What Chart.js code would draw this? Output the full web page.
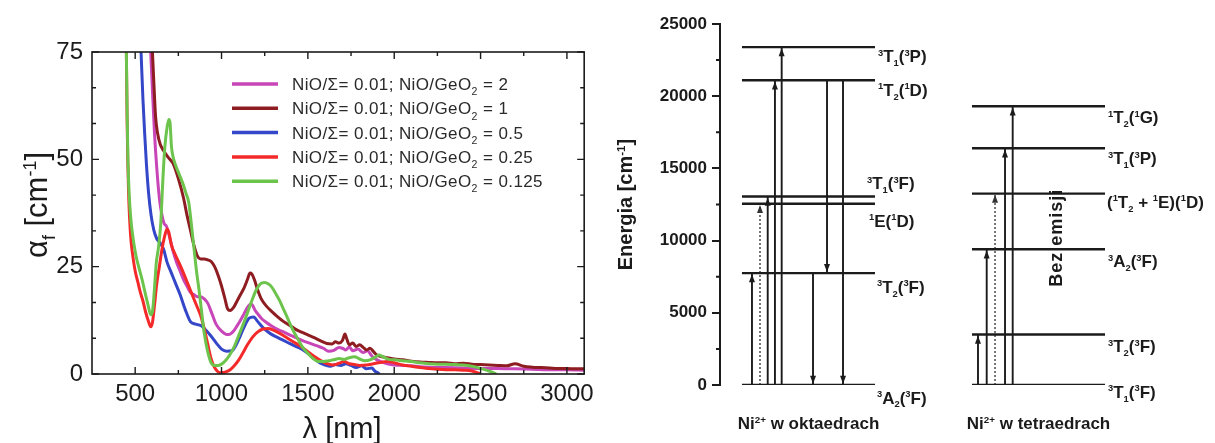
<!DOCTYPE html>
<html><head><meta charset="utf-8">
<script src="https://cdn.jsdelivr.net/npm/chart.js@4.4.0/dist/chart.umd.min.js"></script>
<style>
html,body{margin:0;padding:0;background:#fff;width:1215px;height:443px;overflow:hidden;}
#left{position:absolute;left:0;top:0;width:600px;height:443px;}
#right{position:absolute;left:600px;top:0;width:615px;height:443px;}
</style></head><body>
<canvas id="left" width="600" height="443"></canvas>
<canvas id="right" width="615" height="443"></canvas>
<script>
// ---------------- DATA: absorption spectra ----------------
const wavelengthTicks = [500, 1000, 1500, 2000, 2500, 3000];
const alphaTicks = [0, 25, 50, 75];
const seriesLabels = [
  'NiO/Σ= 0.01; NiO/GeO_2 = 2',
  'NiO/Σ= 0.01; NiO/GeO_2 = 1',
  'NiO/Σ= 0.01; NiO/GeO_2 = 0.5',
  'NiO/Σ= 0.01; NiO/GeO_2 = 0.25',
  'NiO/Σ= 0.01; NiO/GeO_2 = 0.125'
];
// NiO/GeO2 = 2
const lambda_2 = [590,600,612,625,640,655,668,680,692,705,720,740,760,780,800,820,840,860,880,900,920,945,970,1000,1030,1050,1070,1090,1110,1130,1150,1170,1180,1195,1210,1230,1260,1290,1330,1370,1400,1440,1480,1510,1550,1590,1620,1650,1680,1700,1720,1740,1760,1790,1820,1845,1870,1900,1930,1960,2000,2050,2100,2150,2200,2300,2400,2500,2600,2700,2800,2900,3000,3100];
const alpha_2  = [75,66,56,48,41,37,35,34.5,33,31,28.5,26,24,22,20.5,19,18.5,18,18,17.5,16.5,14,11.5,10,9.2,9.3,10,11.2,12.5,14,15.5,16.3,16,14.8,14,13,12,11.2,10.3,9.6,9,8.3,7.6,7.2,6.6,6,5.3,5.5,6.2,6,5.6,6.3,5.4,5.8,5,5.4,4.2,3.3,2.8,2.4,2.1,2.0,1.9,1.7,1.6,1.5,1.4,1.3,1.3,1.2,1.1,1.0,1.0,0.9];
// NiO/GeO2 = 1
const lambda_1 = [600,608,618,630,645,665,690,720,750,780,800,820,840,860,880,900,920,940,960,980,1000,1020,1035,1050,1070,1090,1110,1130,1150,1165,1175,1190,1210,1230,1260,1290,1320,1360,1400,1430,1460,1500,1540,1580,1610,1640,1660,1680,1700,1715,1725,1740,1760,1780,1800,1820,1840,1860,1880,1900,1930,1960,2000,2050,2100,2150,2200,2250,2300,2350,2400,2450,2500,2550,2600,2650,2700,2750,2800,2850,2900,2950,3000,3050,3100];
const alpha_1  = [75,68,60,56,53.5,52,50.5,49,45.5,41,37,33.5,30,27.5,26.8,26.8,26.6,26.2,25,23,20.5,17.5,15.2,14.8,15.5,17,18.5,20,22,23.5,23.3,22,19.5,17.5,15.8,14.6,13.5,12.2,11.2,10.4,9.8,9.1,8.4,7.6,7.1,7.0,7.5,7.2,7.8,9.3,8.2,6.8,7.2,6.4,6.8,6.2,5.6,6.0,5.2,4.4,4.0,3.8,3.5,3.3,3.0,2.8,2.7,2.6,2.6,2.4,2.5,2.3,2.2,2.1,2.0,1.9,2.4,1.8,1.6,1.5,1.4,1.3,1.3,1.2,1.2];
// NiO/GeO2 = 0.5
const lambda_05 = [534,545,555,565,578,592,608,625,645,665,685,710,735,760,790,820,850,880,910,940,970,1000,1030,1060,1085,1110,1135,1160,1185,1210,1240,1270,1300,1340,1380,1420,1460,1500,1540,1570,1600,1630,1660,1690,1720,1750,1780,1810,1840,1870,1890,1905,1915];
const alpha_05  = [75,64,56,49,42,37,33.5,31.5,30.5,29,26,23.5,21,18.5,15,12.2,11.6,11.3,10.2,8.8,7.2,5.8,5.3,5.4,6.8,9,11.3,13,13.3,12.2,10.8,9.8,9,8.2,7.4,6.6,5.9,4.8,3.5,2.6,2.1,1.8,2.2,2.0,2.4,2.0,1.5,1.9,1.2,1.4,0.6,0.3,0];
// NiO/GeO2 = 0.25
const lambda_025 = [449,453,457,462,468,476,488,500,515,530,545,560,575,590,600,612,625,640,655,670,685,695,710,730,755,780,805,830,855,880,900,920,940,960,980,1000,1025,1050,1075,1100,1125,1150,1180,1210,1240,1270,1300,1340,1380,1420,1460,1500,1540,1580,1620,1650,1680,1710,1740,1770,1800,1840,1880,1920,1960,2000,2050,2100,2150,2200,2250,2300,2350,2400,2450,2480,2500];
const alpha_025  = [75,60,50,42,36,31,27,24,21.5,19,17,14.5,12.5,11,12,16,21,25,29,32,33.8,33,30,28,25.8,23.5,21,18.5,16,13.5,10.5,7,3.5,1.5,0.5,0.3,0.5,1,2,3.3,5,6.8,8.6,9.8,10.5,10.6,10.2,9.4,8.4,7.4,6.4,5.2,4,3,2.3,2.1,2.5,2.9,2.4,2.2,2.0,2.1,2.4,2.7,2.9,2.6,2.1,1.8,1.5,1.3,1.1,1.0,1.0,0.9,0.7,0.3,0];
// NiO/GeO2 = 0.125
const lambda_0125 = [449,453,458,465,475,490,505,520,540,560,575,590,600,612,622,635,648,660,672,685,695,702,710,720,735,755,775,795,810,825,840,855,870,885,900,920,940,960,980,1000,1025,1050,1075,1100,1125,1150,1175,1200,1225,1250,1270,1290,1310,1335,1360,1385,1410,1440,1470,1500,1530,1560,1590,1620,1650,1680,1710,1740,1770,1800,1830,1860,1890,1910,1940,1970,2000,2050,2100,2150,2200,2250,2300,2350,2400,2450,2500,2540,2570,2590];
const alpha_0125  = [75,62,50,42,36,31,27.5,25,22,18.5,16,13.8,14.5,20,25.8,29.5,35,45,53,57.5,59.3,58.5,53,50.5,48.5,46.5,44.5,42,40,35,29.5,24,19.5,14.4,9.5,5.2,2.6,2.0,2.0,2.3,3.2,4.6,6.5,9.0,11.5,14.2,17,19.5,21,21.3,21,20.3,19,17.2,15,12.8,10.5,8.3,6.2,4.8,3.6,2.9,2.9,3.1,3.3,3.6,3.4,3.8,4.0,3.5,3.1,3.3,3.9,4.4,3.9,3.4,3.3,3.1,2.9,2.6,2.4,2.3,2.3,2.2,2.1,1.8,1.3,0.8,0.4,0];

// ---------------- DATA: energy level diagram ----------------
const energyTicks = [0, 5000, 10000, 15000, 20000, 25000];
const octaLevelEnergy = [0, 7750, 12550, 13050, 21100, 23400];
const octaLevelLabel  = ['^3A_2(^3F)', '^3T_2(^3F)', '^1E(^1D)', '^3T_1(^3F)', '^1T_2(^1D)', '^3T_1(^3P)'];
const octaTransFrom = [0, 0, 0, 0, 0, 1, 4, 4];
const octaTransTo   = [1, 2, 3, 4, 5, 0, 1, 0];
const octaTransKind = ['solid','dotted','solid','solid','solid','solid','solid','solid'];
const tetraLevelEnergy = [0, 3500, 9400, 13250, 16400, 19300];
const tetraLevelLabel  = ['^3T_1(^3F)', '^3T_2(^3F)', '^3A_2(^3F)', '(^1T_2 + ^1E)(^1D)', '^3T_1(^3P)', '^1T_2(^1G)'];
const tetraTransFrom = [0, 0, 0, 0, 0];
const tetraTransTo   = [1, 2, 3, 4, 5];
const tetraTransKind = ['solid','solid','dotted','solid','solid'];

// ---------------- STYLE / LAYOUT ----------------
const FONT = 'Liberation Sans';
const seriesColors = ['#c846b8', '#8e1d22', '#3447c8', '#f42a2a', '#6cc44c'];
const seriesOrder  = [5, 4, 3, 2, 1];
const INK = '#1b1b1b';

function parseRich(str){
  const segs=[]; let i=0, cur='';
  while(i<str.length){
    const c=str[i];
    if(c==='^'||c==='_'){
      if(cur){segs.push({t:cur,k:'n'});cur='';}
      i++; let g;
      if(str[i]==='{'){const j=str.indexOf('}',i); g=str.slice(i+1,j); i=j+1;}
      else {g=str[i]; i++;}
      segs.push({t:g,k:c==='^'?'sup':'sub'});
    } else {cur+=c; i++;}
  }
  if(cur) segs.push({t:cur,k:'n'});
  return segs;
}
function drawRich(ctx, str, x, yCenter, o){
  const size=o.size, wt=o.weight||'normal', ss=o.scriptScale||0.58;
  const font=s=>`${wt} ${s}px "${FONT}"`;
  const segs=parseRich(str);
  const widths=segs.map(sg=>{ctx.font=font(sg.k==='n'?size:size*ss); return ctx.measureText(sg.t).width;});
  const total=widths.reduce((a,b)=>a+b,0);
  let cx = o.align==='center'? x-total/2 : (o.align==='right'? x-total : x);
  const base = yCenter + size*0.36;
  ctx.fillStyle=o.color||INK; ctx.textBaseline='alphabetic'; ctx.textAlign='left';
  segs.forEach((sg,i)=>{
    ctx.font=font(sg.k==='n'?size:size*ss);
    const dy = sg.k==='sup' ? -size*(o.supRaise||0.36) : (sg.k==='sub' ? size*(o.subDrop||0.2) : 0);
    ctx.fillText(sg.t, cx, base+dy);
    cx+=widths[i];
  });
  return total;
}
function drawRotated(ctx, str, cx, cy, o){
  ctx.save(); ctx.translate(cx, cy); ctx.rotate(-Math.PI/2);
  drawRich(ctx, str, 0, 0, Object.assign({align:'center'}, o));
  ctx.restore();
}
const plainNumber = v => String(v);

// ---------------- LEFT CHART ----------------
const specSets = [[lambda_2,alpha_2],[lambda_1,alpha_1],[lambda_05,alpha_05],[lambda_025,alpha_025],[lambda_0125,alpha_0125]];
const leftDatasets = specSets.map((s,i)=>({
  label: seriesLabels[i],
  data: s[0].map((l,j)=>({x:l, y:s[1][j]})),
  borderColor: seriesColors[i],
  borderWidth: 3,
  pointRadius: 0,
  fill: false,
  cubicInterpolationMode: 'monotone',
  order: seriesOrder[i]
}));

const leftDecor = {
  id: 'leftDecor',
  afterDraw(chart){
    const {ctx, chartArea:a, scales:{x,y}} = chart;
    ctx.save();
    ctx.strokeStyle = INK; ctx.lineWidth = 1.6;
    ctx.strokeRect(a.left, a.top, a.right-a.left, a.bottom-a.top);
    ctx.lineWidth = 1.4;
    const xMaj = x.ticks.map(t=>t.value);
    const xMin = []; for(let i=0;i<xMaj.length-1;i++) xMin.push((xMaj[i]+xMaj[i+1])/2);
    const yMaj = y.ticks.map(t=>t.value);
    const yMin = []; for(let i=0;i<yMaj.length-1;i++){ const d=(yMaj[i+1]-yMaj[i])/3; yMin.push(yMaj[i]+d, yMaj[i]+2*d); }
    ctx.beginPath();
    const tickX=(v,len)=>{const px=x.getPixelForValue(v); ctx.moveTo(px,a.bottom); ctx.lineTo(px,a.bottom-len); ctx.moveTo(px,a.top); ctx.lineTo(px,a.top+len);};
    const tickY=(v,len)=>{const py=y.getPixelForValue(v); ctx.moveTo(a.left,py); ctx.lineTo(a.left+len,py); ctx.moveTo(a.right,py); ctx.lineTo(a.right-len,py);};
    xMaj.forEach(v=>tickX(v,7)); xMin.forEach(v=>tickX(v,4));
    yMaj.forEach(v=>tickY(v,7)); yMin.forEach(v=>tickY(v,4));
    ctx.stroke();
    // legend
    chart.data.datasets.forEach((d,i)=>{
      const ly = 84 + i*24.3;
      ctx.strokeStyle = d.borderColor; ctx.lineWidth = 3.5;
      ctx.beginPath(); ctx.moveTo(232, ly); ctx.lineTo(278, ly); ctx.stroke();
      ctx.save(); ctx.letterSpacing = '0.4px';
      drawRich(ctx, d.label, 292, ly, {size:17, color:'#2a2a2a', subDrop:0.3, scriptScale:0.62});
      ctx.restore();
    });
    // axis titles
    drawRich(ctx, 'λ [nm]', (a.left+a.right)/2 + 4, 428, {size:29, align:'center', color:INK});
    drawRotated(ctx, 'α_f [cm^{-1}]', 36, 205, {size:31, color:INK, subDrop:0.25});
    ctx.restore();
  }
};

new Chart(document.getElementById('left'), {
  type: 'line',
  data: { datasets: leftDatasets },
  options: {
    responsive: false, animation: false, events: [],
    layout: { padding: { left: 0, top: 52, right: 11, bottom: 0 } },
    plugins: { legend: { display: false }, tooltip: { enabled: false } },
    scales: {
      x: {
        type: 'linear', min: 250, max: 3100,
        afterBuildTicks: s => { s.ticks = wavelengthTicks.map(v=>({value:v})); },
        afterFit: s => { s.height = 69; },
        grid: { display: false, drawTicks: false },
        border: { display: false },
        ticks: { font: { family: FONT, size: 24 }, color: INK, padding: 6, maxRotation: 0, callback: plainNumber }
      },
      y: {
        type: 'linear', min: 0, max: 75,
        afterBuildTicks: s => { s.ticks = alphaTicks.map(v=>({value:v})); },
        afterFit: s => { s.width = 92; },
        grid: { display: false, drawTicks: false },
        border: { display: false },
        ticks: { font: { family: FONT, size: 24 }, color: INK, padding: 9, callback: plainNumber }
      }
    }
  },
  plugins: [leftDecor]
});

// ---------------- RIGHT CHART (energy diagram) ----------------
const OCTA_SPAN = [4.44, 31.31];
const OCTA_SLOTS = [6.46, 8.08, 9.64, 11.1, 12.46, 18.79, 21.62, 24.85];
const TETRA_SPAN = [50.91, 77.78];
const TETRA_SLOTS = [52.12, 53.88, 55.56, 57.58, 59.13];
const OCTA_LABEL_ADJ  = [[2,12.5],[2,13.7],[-6,17],[-8,-13.5],[3,9.5],[3,9]];
const TETRA_LABEL_ADJ = [[3,6.7],[3,11.7],[3,12],[2,8],[3,10],[3,10.7]];

const rightDatasets = [];
function addLevels(energies, labels, span, adj, group){
  energies.forEach((e,i)=>rightDatasets.push({
    kind:'level', group, label: labels[i], adj: adj[i],
    data:[{x:span[0],y:e},{x:span[1],y:e}],
    borderColor: INK, borderWidth: 2.4, pointRadius: 0, showLine: true
  }));
}
function addTransitions(energies, from, to, kinds, slots){
  from.forEach((f,i)=>rightDatasets.push({
    kind:'arrow', dotted: kinds[i]==='dotted',
    data:[{x:slots[i],y:energies[f]},{x:slots[i],y:energies[to[i]]}],
    borderColor: kinds[i]==='dotted' ? '#555' : INK,
    borderWidth: kinds[i]==='dotted' ? 1.6 : 1.9,
    borderDash: kinds[i]==='dotted' ? [2,2] : [],
    pointRadius: 0, showLine: true
  }));
}
addLevels(octaLevelEnergy, octaLevelLabel, OCTA_SPAN, OCTA_LABEL_ADJ, 'octa');
addLevels(tetraLevelEnergy, tetraLevelLabel, TETRA_SPAN, TETRA_LABEL_ADJ, 'tetra');
addTransitions(octaLevelEnergy, octaTransFrom, octaTransTo, octaTransKind, OCTA_SLOTS);
addTransitions(tetraLevelEnergy, tetraTransFrom, tetraTransTo, tetraTransKind, TETRA_SLOTS);

const rightDecor = {
  id: 'rightDecor',
  afterDraw(chart){
    const {ctx, chartArea:a, scales:{x,y}} = chart;
    ctx.save();
    // minor ticks
    ctx.strokeStyle = INK; ctx.lineWidth = 2;
    const t = y.ticks.map(t=>t.value);
    ctx.beginPath();
    for(let i=0;i<t.length-1;i++){ const py=y.getPixelForValue((t[i]+t[i+1])/2); ctx.moveTo(a.left-4,py); ctx.lineTo(a.left,py); }
    ctx.stroke();
    // arrowheads and labels
    chart.data.datasets.forEach((d,i)=>{
      const meta = chart.getDatasetMeta(i);
      const p0 = meta.data[0], p1 = meta.data[1];
      if(d.kind==='arrow'){
        const dir = p1.y < p0.y ? 1 : -1; // 1 = upward
        const tipY = p1.y + dir*1.2;
        ctx.fillStyle = d.dotted ? '#333' : INK;
        ctx.beginPath();
        ctx.moveTo(p1.x, tipY);
        ctx.lineTo(p1.x-3, tipY + dir*8);
        ctx.lineTo(p1.x+3, tipY + dir*8);
        ctx.closePath(); ctx.fill();
      } else if(d.kind==='level'){
        drawRich(ctx, d.label, p1.x + d.adj[0], p1.y + d.adj[1], {size:17, weight:'bold', color:INK, scriptScale:0.55, supRaise:0.38, subDrop:0.22});
      }
    });
    // titles
    drawRotated(ctx, 'Energia [cm^{-1}]', 25, (a.top+a.bottom)/2, {size:20, weight:'bold', color:INK});
    const oc = x.getPixelForValue((OCTA_SPAN[0]+OCTA_SPAN[1])/2);
    const tc = x.getPixelForValue((TETRA_SPAN[0]+TETRA_SPAN[1])/2);
    drawRich(ctx, 'Ni^{2+} w oktaedrach', oc, 423, {size:17, weight:'bold', align:'center', color:INK});
    drawRich(ctx, 'Ni^{2+} w tetraedrach', tc, 423, {size:17, weight:'bold', align:'center', color:INK});
    ctx.save(); ctx.letterSpacing = '1px';
    drawRotated(ctx, 'Bez emisji', x.getPixelForValue(67.7), y.getPixelForValue(10200), {size:18, weight:'bold', color:INK});
    ctx.restore();
    ctx.restore();
  }
};

new Chart(document.getElementById('right'), {
  type: 'scatter',
  data: { datasets: rightDatasets },
  options: {
    responsive: false, animation: false, events: [],
    layout: { padding: { left: 0, top: 24, right: 0, bottom: 58 } },
    plugins: { legend: { display: false }, tooltip: { enabled: false } },
    scales: {
      x: { type: 'linear', min: 0, max: 100, display: false },
      y: {
        type: 'linear', min: 0, max: 25000,
        afterBuildTicks: s => { s.ticks = energyTicks.map(v=>({value:v})); },
        afterFit: s => { s.width = 120; },
        grid: { display: true, drawOnChartArea: false, drawTicks: true, tickLength: 8, color: INK, lineWidth: 2 },
        border: { display: true, color: INK, width: 2 },
        ticks: { font: { family: FONT, size: 17, weight: 'bold' }, color: INK, padding: 5, callback: plainNumber }
      }
    }
  },
  plugins: [rightDecor]
});
</script>
</body></html>
